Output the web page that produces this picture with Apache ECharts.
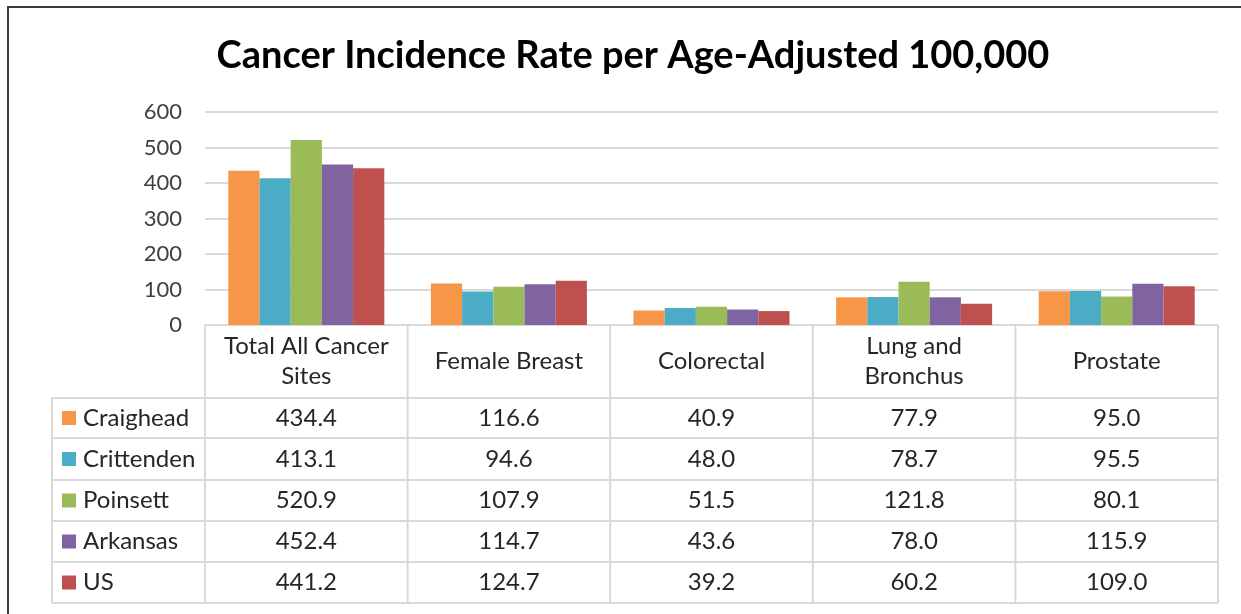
<!DOCTYPE html>
<html>
<head>
<meta charset="utf-8">
<script src="https://cdn.jsdelivr.net/npm/echarts@6/dist/echarts.min.js"></script>
<style>
  html, body { margin: 0; padding: 0; background: #fff; }
  #chart { width: 1241px; height: 614px; }
</style>
</head>
<body>
<div id="chart"></div>
<script>
const categories = ['Total All Cancer\nSites', 'Female Breast', 'Colorectal', 'Lung and\nBronchus', 'Prostate'];
const seriesNames = ['Craighead', 'Crittenden', 'Poinsett', 'Arkansas', 'US'];
const craighead = [434.4, 116.6, 40.9, 77.9, 95.0];
const crittenden = [413.1, 94.6, 48.0, 78.7, 95.5];
const poinsett = [520.9, 107.9, 51.5, 121.8, 80.1];
const arkansas = [452.4, 114.7, 43.6, 78.0, 115.9];
const us = [441.2, 124.7, 39.2, 60.2, 109.0];
const colors = ['#F79646', '#4BACC6', '#9BBB59', '#8064A2', '#C0504D'];

const allValues = [craighead, crittenden, poinsett, arkansas, us];
const font = 'Lato, "Open Sans", sans-serif';
const textColor = '#262626';
const lineColor = '#d9d9d9';

const chart = echarts.init(document.getElementById('chart'));

// table layout (rows under the plot)
const gridLeft = 205, gridRight = 1218, gridTop = 112, gridBottom = 325;
const headerBottom = 398;
const rowLines = [398, 438, 480, 521, 562, 603];
const tableLeft = 52;

const buildTable = () => {
  const els = [];
  const colW = (gridRight - gridLeft) / categories.length;
  // outer frame of the picture
  els.push({
    type: 'rect', shape: { x: 8, y: 7, width: 1400, height: 800 },
    style: { fill: null, stroke: '#3a3a3a', lineWidth: 2 }, silent: true
  });
  // horizontal lines
  rowLines.forEach(y => {
    els.push({ type: 'line', shape: { x1: tableLeft, y1: y, x2: gridRight, y2: y },
      style: { stroke: lineColor, lineWidth: 2 } });
  });
  els.push({ type: 'line', shape: { x1: gridLeft, y1: gridBottom, x2: gridRight, y2: gridBottom },
    style: { stroke: lineColor, lineWidth: 2 } });
  // vertical lines
  els.push({ type: 'line', shape: { x1: tableLeft, y1: headerBottom, x2: tableLeft, y2: 603 },
    style: { stroke: lineColor, lineWidth: 2 } });
  for (let i = 0; i <= categories.length; i++) {
    const x = gridLeft + i * colW;
    els.push({ type: 'line', shape: { x1: x, y1: gridBottom, x2: x, y2: 603 },
      style: { stroke: lineColor, lineWidth: 2 } });
  }
  // legend keys + values
  seriesNames.forEach((name, r) => {
    const cy = (rowLines[r] + rowLines[r + 1]) / 2;
    els.push({ type: 'rect', shape: { x: 62, y: cy - 7, width: 14, height: 14 },
      style: { fill: colors[r] } });
    els.push({ type: 'text', x: 83, y: cy,
      style: { text: name, font: '24px ' + font, fill: textColor, align: 'left', verticalAlign: 'middle' } });
    allValues[r].forEach((v, c) => {
      els.push({ type: 'text', x: gridLeft + (c + 0.5) * colW, y: cy,
        style: { text: v.toFixed(1), font: '24px ' + font, fill: textColor, align: 'center', verticalAlign: 'middle' } });
    });
  });
  return els;
};

const option = {
  animation: false,
  title: {
    text: 'Cancer Incidence Rate per Age-Adjusted 100,000',
    left: 628, top: 32,
    textAlign: 'center',
    textStyle: { fontFamily: font, fontWeight: 'bold', fontSize: 38, color: '#000' }
  },
  grid: { left: gridLeft, right: 1241 - gridRight, top: gridTop, bottom: 614 - gridBottom, containLabel: false },
  xAxis: {
    type: 'category',
    data: categories,
    axisLine: { show: false },
    axisTick: { show: false },
    axisLabel: {
      interval: 0, margin: 36,
      fontFamily: font, fontSize: 24, color: textColor, lineHeight: 30,
      verticalAlign: 'middle'
    }
  },
  yAxis: {
    type: 'value',
    min: 0, max: 600, interval: 100,
    axisLine: { show: false },
    axisTick: { show: false },
    axisLabel: { fontFamily: font, fontSize: 22, color: '#404040', margin: 23 },
    splitLine: { lineStyle: { color: lineColor, width: 2 } }
  },
  series: seriesNames.map((name, i) => ({
    name: name,
    type: 'bar',
    data: allValues[i],
    barGap: '0%',
    barCategoryGap: '23%',
    itemStyle: { color: colors[i] }
  })),
  graphic: buildTable()
};

chart.setOption(option);
</script>
</body>
</html>
